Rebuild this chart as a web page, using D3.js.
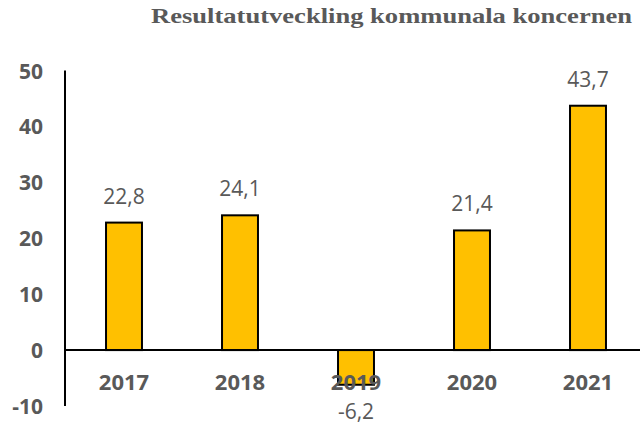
<!DOCTYPE html>
<html>
<head>
<meta charset="utf-8">
<script src="https://cdn.jsdelivr.net/npm/d3@7"></script>
<style>
  body { margin: 0; background: #fff; }
  text { fill: #595959; }
</style>
</head>
<body>
<svg id="chart" width="640" height="426"></svg>
<script>
// chart data
var years = ["2017", "2018", "2019", "2020", "2021"];
var results = [22.8, 24.1, -6.2, 21.4, 43.7];
var yTicks = [-10, 0, 10, 20, 30, 40, 50];
var title = "Resultatutveckling kommunala koncernen";

var svg = d3.select("#chart");

var x = d3.scaleBand().domain(years).range([66, 646]).paddingInner(0.69).paddingOuter(0.345);
var y = d3.scaleLinear().domain([-10, 50]).range([406, 70.5]);

function fmtVal(v){
	return d3.format(".1f")(v).replace("−", "-").replace(".", ",");
}

// title
svg.append("text")
	.attr("x", 151).attr("y", 23)
	.attr("font-family", "Liberation Serif")
	.attr("font-weight", "bold")
	.attr("font-size", 21)
	.attr("textLength", 481)
	.attr("lengthAdjust", "spacingAndGlyphs")
	.text(title);

// y axis
var yAxis = d3.axisLeft(y).tickValues(yTicks).tickSize(0).tickPadding(0)
	.tickFormat(d => d3.format("d")(d).replace("−", "-"));
var gy = svg.append("g").attr("transform", "translate(43,0)").call(yAxis);
gy.select(".domain").remove();
gy.selectAll("text")
	.attr("font-family", "Open Sans")
	.attr("font-weight", "bold")
	.attr("font-size", 21)
	.attr("dy", "0.36em");

svg.append("line")
	.attr("x1", 65).attr("x2", 65)
	.attr("y1", y(50)).attr("y2", y(-10))
	.attr("stroke", "#000").attr("stroke-width", 2);

// bars
svg.selectAll("rect.bar")
	.data(years)
	.enter()
	.append("rect")
		.attr("class", "bar")
		.attr("x", d => x(d))
		.attr("width", x.bandwidth())
		.attr("y", (d, i) => y(Math.max(0, results[i])))
		.attr("height", (d, i) => Math.abs(y(results[i]) - y(0)))
		.attr("fill", "#FFC000")
		.attr("stroke", "#000")
		.attr("stroke-width", 2);

// zero line
svg.append("line")
	.attr("x1", 65).attr("x2", 640)
	.attr("y1", y(0)).attr("y2", y(0))
	.attr("stroke", "#000").attr("stroke-width", 2);

// category labels
svg.selectAll("text.cat")
	.data(years)
	.enter()
	.append("text")
		.attr("class", "cat")
		.attr("x", d => x(d) + x.bandwidth() / 2)
		.attr("y", 390)
		.attr("text-anchor", "middle")
		.attr("font-family", "Open Sans")
		.attr("font-weight", "bold")
		.attr("font-size", 22)
		.text(d => d);

// value labels
svg.selectAll("text.val")
	.data(years)
	.enter()
	.append("text")
		.attr("class", "val")
		.attr("x", d => x(d) + x.bandwidth() / 2)
		.attr("y", (d, i) => results[i] >= 0 ? y(results[i]) - 19 : y(results[i]) + 34)
		.attr("text-anchor", "middle")
		.attr("font-family", "Open Sans")
		.attr("font-size", 21)
		.text((d, i) => fmtVal(results[i]));
</script>
</body>
</html>
